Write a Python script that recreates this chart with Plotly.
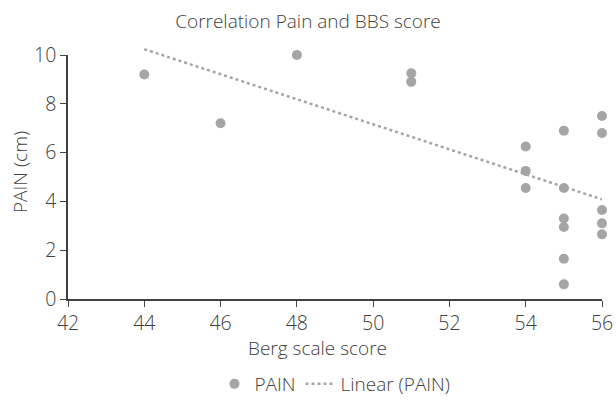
import numpy as np
import plotly.graph_objects as go

berg = [44, 46, 48, 51, 51, 54, 54, 54, 55, 55, 55, 55, 55, 55, 56, 56, 56, 56, 56]
pain = [9.2, 7.2, 10.0, 9.25, 8.9, 6.25, 5.25, 4.55, 6.9, 4.55, 3.3, 2.95, 1.65, 0.6, 7.5, 6.8, 3.65, 3.1, 2.65]
x_ticks = [42, 44, 46, 48, 50, 52, 54, 56]
y_ticks = [0, 2, 4, 6, 8, 10]

slope, intercept = np.polyfit(berg, pain, 1)
tx = [min(berg), max(berg)]
ty = [slope * v + intercept for v in tx]

FONT = "Open Sans"
TXT = "#404040"
GRAY = "#a5a5a5"
W, H = 616, 400
SX0, SX1, SY0, SY1 = 68, 602, 55, 299   # main plot area (screen px)
EXTRA = 12                              # extra room above for the trendline
L, R, B = SX0, W - SX1, H - SY1
T = SY0 - EXTRA
pw, ph = W - L - R, H - T - B
main_top = (SY1 - SY0) / ph             # main y domain top (fraction)


def px(xs):
    return (xs - SX0) / pw


def py(ys):
    return (SY1 - ys) / ph


fig = go.Figure()
fig.add_trace(go.Scatter(x=berg, y=pain, mode="markers", name="PAIN",
                         marker=dict(color=GRAY, size=10), cliponaxis=False,
                         xaxis="x", yaxis="y"))
fig.add_trace(go.Scatter(x=tx, y=ty, mode="lines", name="Linear (PAIN)",
                         line=dict(color=GRAY, width=2.5, dash="dot"),
                         xaxis="x", yaxis="y2"))

fig.update_layout(
    width=W, height=H,
    margin=dict(l=L, r=R, t=T, b=B, autoexpand=False),
    paper_bgcolor="white", plot_bgcolor="rgba(0,0,0,0)",
    font=dict(family=FONT, size=19, color=TXT, weight=300),
    title=dict(text="Correlation Pain and BBS score", x=308 / W, xanchor="center",
               y=1 - 21 / H, yanchor="middle", xref="container", yref="container",
               font=dict(size=19, color=TXT, family=FONT, weight=300)),
    showlegend=True,
    legend=dict(orientation="h", x=px(335), xanchor="center", y=py(384), yanchor="middle",
                font=dict(size=19, color=TXT, family=FONT, weight=300),
                itemwidth=30, tracegroupgap=0),
    xaxis=dict(range=[42, 56], tickvals=x_ticks, showgrid=False, zeroline=False,
               showline=True, linecolor="#404040", linewidth=1.5,
               ticks="outside", ticklen=6, tickcolor="#404040", automargin=False,
               tickfont=dict(size=19.5, color=TXT, family=FONT, weight=300)),
    yaxis=dict(range=[0, 10], domain=[0, main_top], tickvals=y_ticks, showgrid=False,
               zeroline=False, showline=True, linecolor="#404040", linewidth=1.5,
               ticks="outside", ticklen=6, tickcolor="#404040", automargin=False,
               tickfont=dict(size=19.5, color=TXT, family=FONT, weight=300)),
    yaxis2=dict(range=[0, 10 / main_top], domain=[0, 1], anchor="x", visible=False,
                showgrid=False, zeroline=False, automargin=False),
    annotations=[
        dict(text="Berg scale score", x=px(317), y=py(348), xref="paper", yref="paper",
             xanchor="center", yanchor="middle", showarrow=False,
             font=dict(size=19, color=TXT, family=FONT, weight=300)),
        dict(text="PAIN (cm)", textangle=-90, x=px(20), y=py(172), xref="paper", yref="paper",
             xanchor="center", yanchor="middle", showarrow=False,
             font=dict(size=19, color=TXT, family=FONT, weight=300)),
    ],
)

fig.write_html("out.html", config={"displayModeBar": False},
               post_script="document.body.style.margin='0';document.body.style.overflow='hidden';")
